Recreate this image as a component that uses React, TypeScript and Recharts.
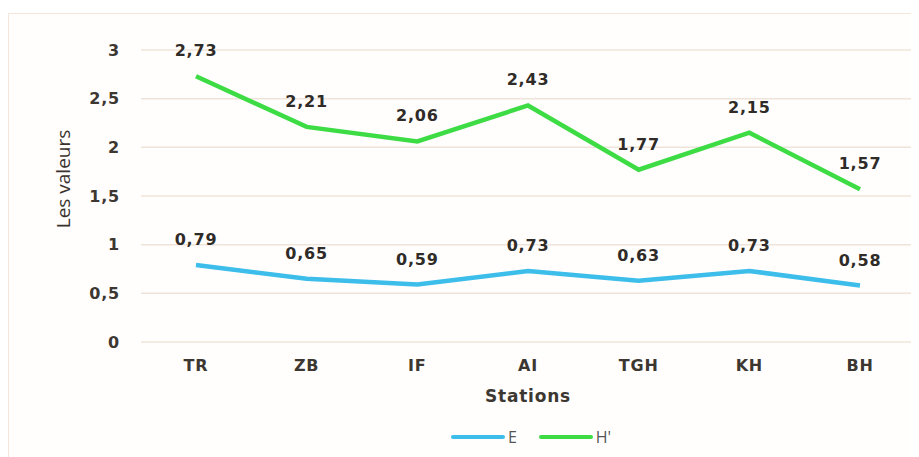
import React from 'react';
import { LineChart, Line, XAxis, YAxis, CartesianGrid, Legend, LabelList } from 'recharts';

const stations = ['TR', 'ZB', 'IF', 'AI', 'TGH', 'KH', 'BH'];
const valuesE = [0.79, 0.65, 0.59, 0.73, 0.63, 0.73, 0.58];
const valuesH = [2.73, 2.21, 2.06, 2.43, 1.77, 2.15, 1.57];
const yTicks = [0, 0.5, 1, 1.5, 2, 2.5, 3];

const data = stations.map((s, i) => ({ name: s, E: valuesE[i], "H'": valuesH[i] }));

const FONT = '"DejaVu Sans", sans-serif';
const TXT = '#3d3732';
const fmt = (v: number) => String(v).replace('.', ',');
const tickStyle = { fontFamily: FONT, fontSize: 16, fontWeight: 700, fill: TXT, letterSpacing: 0.8 };

function YTitle(props: any) {
  const vb = props.viewBox ?? { x: 0, y: 0, width: 0, height: 0 };
  const x = vb.x + 56;
  const y = vb.y + vb.height / 2 - 17;
  return (
    <text
      x={x}
      y={y}
      transform={`rotate(-90, ${x}, ${y})`}
      textAnchor="middle"
      dominantBaseline="middle"
      style={{ fontFamily: '"Open Sans", sans-serif', fontSize: 19, fill: '#3a332d' }}
    >
      Les valeurs
    </text>
  );
}

function XTitle(props: any) {
  const vb = props.viewBox ?? { x: 0, y: 0, width: 0, height: 0 };
  return (
    <text
      x={vb.x + vb.width / 2}
      y={vb.y + 55}
      textAnchor="middle"
      dominantBaseline="middle"
      style={{ fontFamily: FONT, fontSize: 17, fontWeight: 700, fill: TXT, letterSpacing: 0.8 }}
    >
      Stations
    </text>
  );
}

function LegendContent({ payload }: any) {
  return (
    <div style={{ display: 'flex', justifyContent: 'center', alignItems: 'center', paddingLeft: 160 }}>
      {(payload ?? []).map((p: any) => (
        <div key={p.value} style={{ display: 'flex', alignItems: 'center', marginRight: 22 }}>
          <div style={{ width: 54, height: 4, borderRadius: 2, background: p.color, marginRight: 3 }} />
          <span style={{ fontFamily: '"Open Sans", sans-serif', fontSize: 16, color: '#555' }}>{p.value}</span>
        </div>
      ))}
    </div>
  );
}

export default function App() {
  return (
    <div
      style={{
        marginTop: 5,
        width: 916,
        height: 452,
        border: '1px solid #f3e6da',
        boxSizing: 'border-box',
        background: '#fffefd',
      }}
    >
      <LineChart
        width={909}
        height={442}
        data={data}
        margin={{ top: 36, right: 3, left: 0, bottom: 4 }}
      >
        <CartesianGrid vertical={false} stroke="#f0e4da" strokeWidth={1.5} />
        <XAxis
          dataKey="name"
          axisLine={false}
          tickLine={false}
          tickMargin={12}
          height={84}
          padding={{ left: 55, right: 55 }}
          tick={tickStyle}
          label={<XTitle />}
        />
        <YAxis
          width={132}
          domain={[0, 3]}
          ticks={yTicks}
          axisLine={false}
          tickLine={false}
          tickMargin={15}
          tickFormatter={fmt}
          tick={tickStyle}
          label={<YTitle />}
        />
        <Legend verticalAlign="bottom" height={26} content={<LegendContent />} />
        <Line
          type="linear"
          dataKey="E"
          stroke="#3cbdea"
          strokeWidth={4.5}
          dot={false}
          isAnimationActive={false}
        >
          <LabelList
            dataKey="E"
            position="top"
            offset={20}
            formatter={(v: any) => fmt(v)}
            style={{ ...tickStyle, fill: '#2f2b28' }}
          />
        </Line>
        <Line
          type="linear"
          dataKey="H'"
          stroke="#3ddc45"
          strokeWidth={4.5}
          dot={false}
          isAnimationActive={false}
        >
          <LabelList
            dataKey="H'"
            position="top"
            offset={20}
            formatter={(v: any) => fmt(v)}
            style={{ ...tickStyle, fill: '#2f2b28' }}
          />
        </Line>
      </LineChart>
    </div>
  );
}
